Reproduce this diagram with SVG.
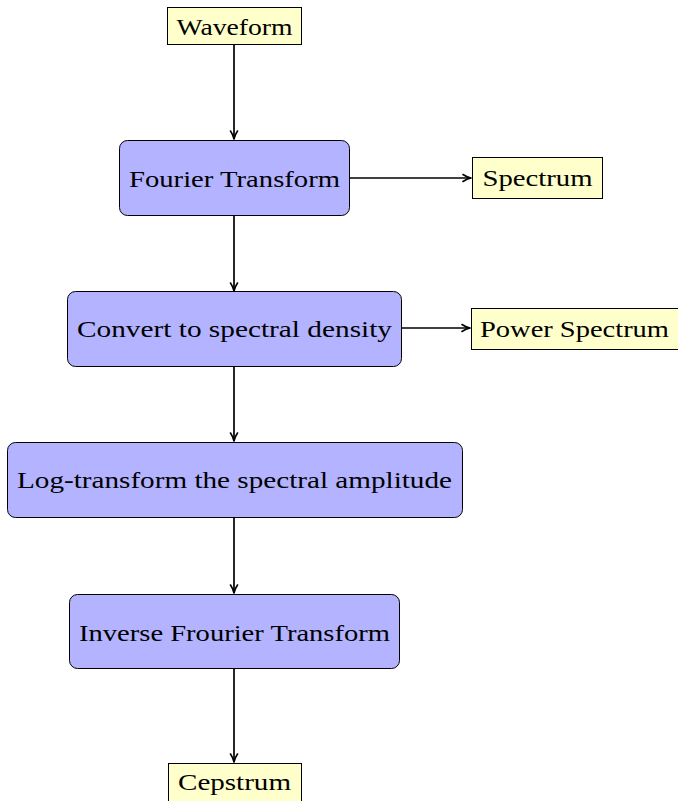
<svg xmlns="http://www.w3.org/2000/svg" width="678" height="801" viewBox="0 0 678 801">
<style>
.proc{fill:#b3b3ff;stroke:#000;stroke-width:1}
.data{fill:#ffffcc;stroke:#000;stroke-width:1}
.t{font-family:'Liberation Serif',serif;font-size:24px;fill:#000;text-anchor:middle}
.conn{stroke:#000;stroke-width:1.7;fill:none;marker-end:url(#arr)}
</style>
<defs>
<marker id="arr" viewBox="0 0 10 10" refX="9" refY="5" markerWidth="10" markerHeight="10" orient="auto" markerUnits="userSpaceOnUse">
<path d="M1,1.5 Q5,4.2 9,5 Q5,5.8 1,8.5" fill="none" stroke="#000" stroke-width="1.6" stroke-linecap="round" stroke-linejoin="round"/>
</marker>
</defs>
<g id="connectors">
<line class="conn" x1="234" y1="45" x2="234" y2="139"/>
<line class="conn" x1="234" y1="216" x2="234" y2="291"/>
<line class="conn" x1="234" y1="367" x2="234" y2="441"/>
<line class="conn" x1="234" y1="518" x2="234" y2="593"/>
<line class="conn" x1="234" y1="669" x2="234" y2="762"/>
<line class="conn" x1="350" y1="178" x2="471" y2="178"/>
<line class="conn" x1="402" y1="328" x2="470" y2="328"/>
</g>
<g id="waveform"><rect class="data" x="167.5" y="7.5" width="134" height="37"/><text class="t" x="234.5" y="35" textLength="116" lengthAdjust="spacingAndGlyphs">Waveform</text></g>
<g id="fourier"><rect class="proc" x="119.5" y="140.5" width="230" height="75" rx="8"/><text class="t" x="234.5" y="187" textLength="211" lengthAdjust="spacingAndGlyphs">Fourier Transform</text></g>
<g id="spectrum"><rect class="data" x="472.5" y="157.5" width="130" height="41"/><text class="t" x="537.5" y="186" textLength="110" lengthAdjust="spacingAndGlyphs">Spectrum</text></g>
<g id="convert"><rect class="proc" x="67.5" y="291.5" width="334" height="75" rx="8"/><text class="t" x="234.5" y="337" textLength="315" lengthAdjust="spacingAndGlyphs">Convert to spectral density</text></g>
<g id="power"><rect class="data" x="471.5" y="308.5" width="212" height="41"/><text class="t" x="574.5" y="337" textLength="189" lengthAdjust="spacingAndGlyphs">Power Spectrum</text></g>
<g id="logtransform"><rect class="proc" x="7.5" y="442.5" width="455" height="75" rx="8"/><text class="t" x="234.5" y="488" textLength="435" lengthAdjust="spacingAndGlyphs">Log-transform the spectral amplitude</text></g>
<g id="inverse"><rect class="proc" x="69.5" y="594.5" width="330" height="74" rx="8"/><text class="t" x="234.5" y="641" textLength="311" lengthAdjust="spacingAndGlyphs">Inverse Frourier Transform</text></g>
<g id="cepstrum"><rect class="data" x="168.5" y="763.5" width="133" height="41"/><text class="t" x="234.5" y="790" textLength="113" lengthAdjust="spacingAndGlyphs">Cepstrum</text></g>
</svg>
